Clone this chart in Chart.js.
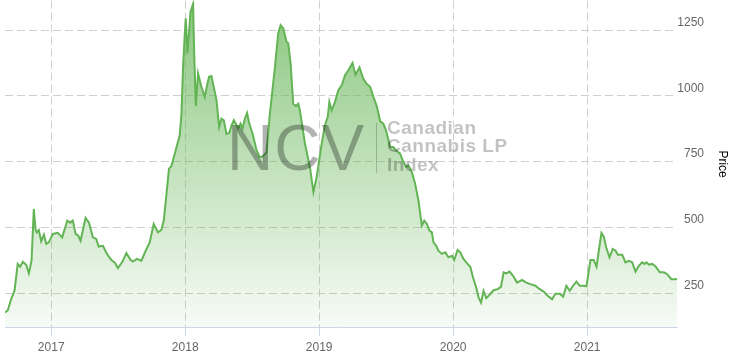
<!DOCTYPE html>
<html>
<head>
<meta charset="utf-8">
<script src="https://cdn.jsdelivr.net/npm/chart.js@4/dist/chart.umd.min.js"></script>
<style>
html,body{margin:0;padding:0;background:#fff;}
#wrap{position:relative;width:733px;height:360px;}
#wm{position:absolute;left:0;top:0;width:733px;height:360px;pointer-events:none;font-family:'Liberation Sans',Arial,sans-serif;}
.ncv{position:absolute;left:227px;top:116px;font-size:64px;line-height:64px;color:rgba(0,0,0,0.3);letter-spacing:1px;white-space:nowrap;}
.sep{position:absolute;left:376px;top:123px;width:1px;height:50px;background:rgba(0,0,0,0.2);}
.txt{position:absolute;left:387px;top:119px;font-size:19px;line-height:18.3px;font-weight:bold;color:rgba(0,0,0,0.24);letter-spacing:0.5px;white-space:nowrap;}
</style>
</head>
<body>
<div id="wrap">
<canvas id="c"></canvas>
<div id="wm"><div class="ncv">NCV</div><div class="sep"></div><div class="txt">Canadian<br>Cannabis LP<br>Index</div></div>
</div>
<script>
// Dates as decimal years
const years = [
2016.655,2016.676,2016.701,2016.726,2016.750,2016.768,2016.788,2016.813,2016.833,2016.853,
2016.870,2016.883,2016.892,2016.907,2016.925,2016.945,2016.963,2016.982,2017.012,2017.049,
2017.082,2017.120,2017.142,2017.161,2017.182,2017.202,2017.219,2017.256,2017.281,2017.311,
2017.336,2017.354,2017.386,2017.416,2017.449,2017.473,2017.498,2017.531,2017.561,2017.593,
2017.610,2017.640,2017.673,2017.705,2017.735,2017.765,2017.797,2017.822,2017.840,2017.858,
2017.879,2017.897,2017.922,2017.959,2017.972,2017.984,2017.997,2018.004,2018.017,2018.029,
2018.039,2018.059,2018.066,2018.079,2018.096,2018.121,2018.146,2018.163,2018.178,2018.196,
2018.213,2018.234,2018.253,2018.271,2018.288,2018.308,2018.328,2018.346,2018.363,2018.378,
2018.395,2018.413,2018.428,2018.445,2018.462,2018.477,2018.503,2018.533,2018.557,2018.580,
2018.607,2018.632,2018.670,2018.694,2018.712,2018.732,2018.757,2018.769,2018.787,2018.806,
2018.827,2018.844,2018.856,2018.894,2018.931,2018.957,2018.981,2019.019,2019.043,2019.064,
2019.076,2019.093,2019.118,2019.143,2019.168,2019.193,2019.218,2019.249,2019.271,2019.301,
2019.330,2019.354,2019.380,2019.405,2019.430,2019.455,2019.479,2019.499,2019.517,2019.529,
2019.554,2019.574,2019.604,2019.624,2019.649,2019.666,2019.692,2019.716,2019.741,2019.766,
2019.784,2019.804,2019.823,2019.841,2019.853,2019.873,2019.890,2019.916,2019.941,2019.965,
2019.991,2020.008,2020.033,2020.053,2020.077,2020.107,2020.128,2020.148,2020.172,2020.190,
2020.208,2020.227,2020.247,2020.272,2020.302,2020.332,2020.357,2020.377,2020.397,2020.421,
2020.447,2020.477,2020.514,2020.546,2020.576,2020.614,2020.646,2020.676,2020.705,2020.738,
2020.763,2020.795,2020.821,2020.845,2020.870,2020.895,2020.920,2020.945,2020.975,2020.995,
2021.025,2021.049,2021.070,2021.087,2021.107,2021.124,2021.142,2021.167,2021.191,2021.212,
2021.229,2021.262,2021.286,2021.311,2021.336,2021.361,2021.386,2021.411,2021.428,2021.443,
2021.461,2021.486,2021.511,2021.543,2021.573,2021.598,2021.628,2021.653,2021.673
];
const prices = [
176,185,227,259,361,350,369,358,325,373,
570,490,481,490,447,472,437,443,475,479,
462,526,518,526,475,468,449,536,519,462,
456,427,430,399,376,367,345,369,402,376,
370,380,373,411,443,513,481,490,526,615,
723,733,780,850,932,1110,1237,1295,1161,1243,
1318,1350,1186,961,1085,1034,996,1040,1072,1075,
1034,983,881,913,907,856,858,888,907,894,
875,894,875,913,935,897,856,792,767,770,
786,932,1110,1237,1269,1256,1205,1200,1123,970,
961,970,945,818,729,634,691,818,888,920,
977,945,977,1021,1040,1078,1097,1125,1080,1108,
1065,1046,1034,996,961,904,894,869,831,805,
805,792,780,754,729,735,710,666,602,507,
526,513,488,481,443,430,411,399,405,386,
392,376,414,405,380,361,350,310,271,233,
214,259,231,244,261,265,274,329,325,332,
316,290,300,290,284,278,265,256,240,227,
248,248,236,278,259,278,294,278,278,276,
376,376,350,411,479,465,424,386,418,411,
396,396,367,373,367,332,354,367,361,367,
358,361,351,329,329,322,303,303,304
];
const yearTicks = [2017, 2018, 2019, 2020, 2021];
const priceTicks = [250, 500, 750, 1000, 1250];

Chart.defaults.font.family = "'Liberation Sans', Arial, sans-serif";

new Chart(document.getElementById('c'), {
  type: 'line',
  data: {
    datasets: [{
      data: years.map((x, i) => ({ x: x, y: prices[i] })),
      borderColor: '#63b454',
      borderWidth: 2,
      pointRadius: 0,
      tension: 0,
      fill: 'start',
      backgroundColor: (ctx) => {
        const area = ctx.chart.chartArea;
        if (!area) return 'rgba(99,180,84,0.3)';
        const g = ctx.chart.ctx.createLinearGradient(0, area.top, 0, area.bottom);
        g.addColorStop(0, 'rgba(99,180,84,0.75)');
        g.addColorStop(1, 'rgba(99,180,84,0.05)');
        return g;
      }
    }]
  },
  options: {
    responsive: true,
    maintainAspectRatio: false,
    animation: false,
    layout: { padding: { left: 5, right: 29, top: 0, bottom: 0 } },
    plugins: { legend: { display: false }, tooltip: { enabled: false } },
    scales: {
      x: {
        type: 'linear',
        min: years[0],
        max: years[years.length - 1],
        afterBuildTicks: (s) => { s.ticks = yearTicks.map(v => ({ value: v })); },
        ticks: { callback: (v) => String(v), color: '#666', font: { size: 12 }, padding: 5, maxRotation: 0, autoSkip: false },
        grid: { color: '#cfcfcf', tickColor: '#ccd6eb', tickLength: 8, drawTicks: true },
        border: { display: true, color: '#ccd6eb', dash: [8, 4] }
      },
      y: {
        position: 'right',
        min: 118.9,
        max: 1362,
        afterBuildTicks: (s) => { s.ticks = priceTicks.map(v => ({ value: v })); },
        ticks: { callback: (v) => String(v), color: '#666', font: { size: 12, lineHeight: 0.1 }, padding: 0, crossAlign: 'far', labelOffset: -7.5 },
        grid: { color: '#cfcfcf', drawTicks: false },
        border: { display: false, dash: [8, 4] },
        title: { display: true, text: 'Price', color: '#000', font: { size: 12 }, padding: { top: -26, bottom: 11.6 } }
      }
    }
  }
});
</script>
</body>
</html>
